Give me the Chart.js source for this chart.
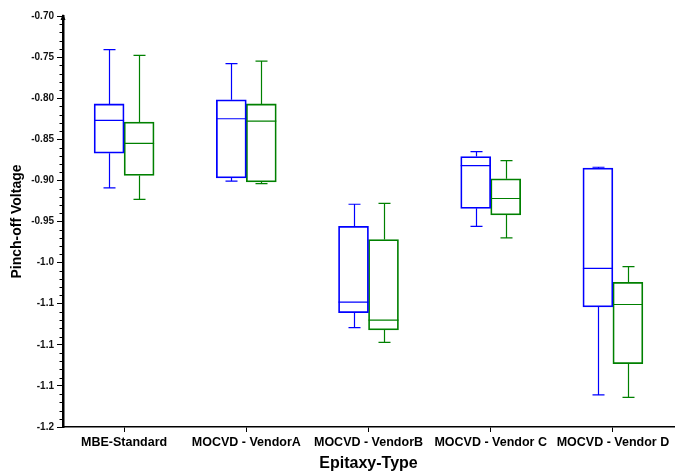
<!DOCTYPE html>
<html>
<head>
<meta charset="utf-8">
<title>Pinch-off Voltage by Epitaxy-Type</title>
<script src="https://cdn.jsdelivr.net/npm/chart.js@4/dist/chart.umd.min.js"></script>
<style>
    html, body { margin: 0; padding: 0; background: #fff; }
    #wrap { width: 681px; height: 474px; }
</style>
</head>
<body>
<div id="wrap"><canvas id="boxChart" width="681" height="474"></canvas></div>
<script>
const categories = ['MBE-Standard', 'MOCVD - VendorA', 'MOCVD - VendorB', 'MOCVD - Vendor C', 'MOCVD - Vendor D'];

// first series (blue)
const blueMax = [-0.741, -0.758, -0.929, -0.865, -0.884];
const blueQ3 = [-0.807, -0.802, -0.956, -0.871, -0.885];
const blueMedian = [-0.827, -0.825, -1.048, -0.882, -1.007];
const blueQ1 = [-0.867, -0.897, -1.061, -0.934, -1.054];
const blueMin = [-0.909, -0.901, -1.079, -0.956, -1.161];

// second series (green)
const greenMax = [-0.748, -0.755, -0.928, -0.876, -1.005];
const greenQ3 = [-0.829, -0.807, -0.972, -0.898, -1.024];
const greenMedian = [-0.855, -0.828, -1.070, -0.922, -1.051];
const greenQ1 = [-0.894, -0.902, -1.082, -0.942, -1.123];
const greenMin = [-0.923, -0.904, -1.097, -0.970, -1.164];

const yTickValues = [-0.70, -0.75, -0.80, -0.85, -0.90, -0.95, -1.00, -1.05, -1.10, -1.15, -1.20];
const yTickLabels = ['-0.70', '-0.75', '-0.80', '-0.85', '-0.90', '-0.95', '-1.0', '-1.1', '-1.1', '-1.1', '-1.2'];

const BLUE = '#0000ff';
const GREEN = '#008000';
const FONT = '"Liberation Sans", Arial, Helvetica, sans-serif';

const stats = [
    { max: blueMax, q3: blueQ3, median: blueMedian, q1: blueQ1, min: blueMin, color: BLUE },
    { max: greenMax, q3: greenQ3, median: greenMedian, q1: greenQ1, min: greenMin, color: GREEN }
];

// medians, whiskers and caps drawn on top of the floating bars
const boxPlugin = {
    id: 'boxParts',
    afterDatasetsDraw(chart) {
        const ctx = chart.ctx;
        const y = chart.scales.y;
        stats.forEach((s, d) => {
            const meta = chart.getDatasetMeta(d);
            meta.data.forEach((bar, i) => {
                const x = Math.round(bar.x) + 0.5;
                const half = bar.width / 2;
                ctx.save();
                ctx.strokeStyle = s.color;
                ctx.lineWidth = 1.2;
                ctx.beginPath();
                ctx.moveTo(bar.x - half, y.getPixelForValue(s.median[i]));
                ctx.lineTo(bar.x + half, y.getPixelForValue(s.median[i]));
                ctx.moveTo(x, y.getPixelForValue(s.q3[i]));
                ctx.lineTo(x, y.getPixelForValue(s.max[i]));
                ctx.moveTo(x, y.getPixelForValue(s.q1[i]));
                ctx.lineTo(x, y.getPixelForValue(s.min[i]));
                ctx.moveTo(x - 6, y.getPixelForValue(s.max[i]));
                ctx.lineTo(x + 6, y.getPixelForValue(s.max[i]));
                ctx.moveTo(x - 6, y.getPixelForValue(s.min[i]));
                ctx.lineTo(x + 6, y.getPixelForValue(s.min[i]));
                ctx.stroke();
                ctx.restore();
            });
        });
    },
    afterDraw(chart) {
        // minor ticks on the y axis every 0.01
        const ctx = chart.ctx;
        const y = chart.scales.y;
        const left = chart.chartArea.left;
        ctx.save();
        ctx.strokeStyle = '#000';
        ctx.lineWidth = 1;
        ctx.beginPath();
        for (let k = 0; k <= 50; k++) {
            if (k % 5 === 0) continue;
            const py = Math.round(y.getPixelForValue(-1.2 + k * 0.01)) + 0.5;
            ctx.moveTo(left - 3.5, py);
            ctx.lineTo(left, py);
        }
        ctx.stroke();
        // small arrow at the top of the y axis
        const top = chart.chartArea.top;
        ctx.fillStyle = '#000';
        ctx.beginPath();
        ctx.moveTo(left - 2.5, top + 4);
        ctx.lineTo(left + 2.5, top + 4);
        ctx.lineTo(left, top - 2);
        ctx.closePath();
        ctx.fill();
        ctx.restore();
    }
};

new Chart(document.getElementById('boxChart'), {
    type: 'bar',
    data: {
        labels: categories,
        datasets: stats.map((s) => ({
            data: s.q3.map((v, i) => [s.q1[i], v]),
            backgroundColor: 'rgba(255,255,255,0)',
            borderColor: s.color,
            borderWidth: 1.1,
            borderSkipped: false,
            barThickness: 30
        }))
    },
    options: {
        responsive: false,
        animation: false,
        layout: { padding: { top: 16, right: 7, bottom: 0, left: 0 } },
        plugins: {
            legend: { display: false },
            tooltip: { enabled: false }
        },
        scales: {
            x: {
                offset: true,
                grid: {
                    offset: false,
                    drawOnChartArea: false,
                    tickLength: 5,
                    tickColor: '#000',
                    tickWidth: 1
                },
                border: { color: '#000', width: 1.5 },
                ticks: {
                    color: '#000',
                    padding: 3,
                    maxRotation: 0,
                    autoSkip: false,
                    font: { family: FONT, size: 12.5, weight: 'bold' }
                },
                title: {
                    display: true,
                    text: 'Epitaxy-Type',
                    color: '#000',
                    padding: { top: 0, bottom: 1 },
                    font: { family: FONT, size: 16, weight: 'bold' }
                },
                afterFit(scale) { scale.height = 47; }
            },
            y: {
                min: -1.2,
                max: -0.7,
                afterBuildTicks(scale) {
                    scale.ticks = yTickValues.map((v) => ({ value: v }));
                },
                grid: {
                    drawOnChartArea: false,
                    tickLength: 6,
                    tickColor: '#000',
                    tickWidth: 1
                },
                border: { color: '#000', width: 2.5 },
                ticks: {
                    color: '#111',
                    padding: 3,
                    font: { family: FONT, size: 10, weight: 'bold' },
                    callback(value) {
                        const i = yTickValues.findIndex((t) => Math.abs(t - value) < 1e-6);
                        return i >= 0 ? yTickLabels[i] : '';
                    }
                },
                title: {
                    display: true,
                    text: 'Pinch-off Voltage',
                    color: '#000',
                    padding: { top: 9, bottom: 0 },
                    font: { family: FONT, size: 14, weight: 'bold' }
                },
                afterFit(scale) { scale.width = 63; }
            }
        }
    },
    plugins: [boxPlugin]
});
</script>
</body>
</html>
